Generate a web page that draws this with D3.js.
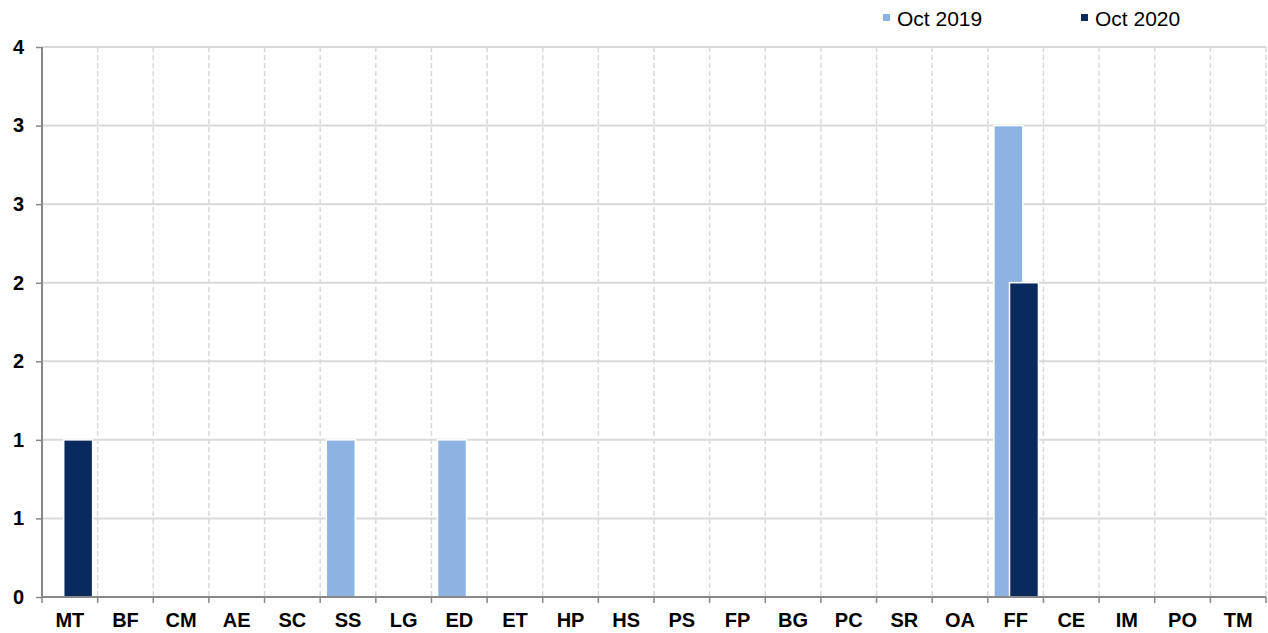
<!DOCTYPE html>
<html><head><meta charset="utf-8">
<script src="https://cdn.jsdelivr.net/npm/d3@7"></script>
<style>body{margin:0;background:#fff}svg{display:block}</style>
</head><body><svg id="c" width="1268" height="633"></svg>
<script>
const categories = ["MT","BF","CM","AE","SC","SS","LG","ED","ET","HP","HS","PS","FP","BG","PC","SR","OA","FF","CE","IM","PO","TM"];
const oct2019 = [0,0,0,0,0,1,0,1,0,0,0,0,0,0,0,0,0,3,0,0,0,0];
const oct2020 = [1,0,0,0,0,0,0,0,0,0,0,0,0,0,0,0,0,2,0,0,0,0];
const yTicks = [0,0.5,1,1.5,2,2.5,3,3.5];
const seriesNames = ["Oct 2019","Oct 2020"];
const colors = ["#8db3e2","#0a2a5e"];

(function(){
const svg = d3.select("#c");
const mL = 42, mR = 1266, mT = 47, mB = 597;
const x = d3.scaleBand().domain(categories).range([mL, mR]).padding(0);
const y = d3.scaleLinear().domain([0, 3.5]).range([mB, mT]);
const bw = x.bandwidth();
const barW = bw * 0.52;
const offs = [bw * 0.11, bw * 0.39];

// horizontal grid
svg.append("g").selectAll("line").data(yTicks.slice(1)).join("line")
  .attr("x1", mL).attr("x2", mR).attr("y1", d => y(d)).attr("y2", d => y(d))
  .attr("stroke", "#d9d9d9").attr("stroke-width", 2);
// vertical dashed grid
svg.append("g").selectAll("line").data(d3.range(1, categories.length + 1)).join("line")
  .attr("x1", i => mL + i*bw).attr("x2", i => mL + i*bw)
  .attr("y1", mT).attr("y2", mB)
  .attr("stroke", "#d9d9d9").attr("stroke-width", 1.5).attr("stroke-dasharray", "5,3");

// bars
[oct2019, oct2020].forEach((vals, s) => {
  svg.append("g").selectAll("rect").data(vals.map((v,i)=>({v, c: categories[i]})).filter(d => d.v > 0)).join("rect")
    .attr("x", d => x(d.c) + offs[s]).attr("width", barW)
    .attr("y", d => y(d.v)).attr("height", d => y(0) - y(d.v))
    .attr("fill", colors[s]).attr("stroke", "#fff").attr("stroke-width", 1.5);
});

// axes
const yAxis = svg.append("g").attr("transform", `translate(${mL},0)`)
  .call(d3.axisLeft(y).tickValues(yTicks).tickSize(6).tickPadding(12).tickFormat(d => String(Math.round(d))));
const xAxis = svg.append("g").attr("transform", `translate(0,${mB})`)
  .call(d3.axisBottom(x).tickSize(0).tickPadding(16));
// x ticks at band boundaries
svg.append("g").selectAll("line").data(d3.range(categories.length + 1)).join("line")
  .attr("x1", i => mL + i*bw).attr("x2", i => mL + i*bw)
  .attr("y1", mB).attr("y2", mB + 6).attr("stroke", "#888").attr("stroke-width", 1.5);

[yAxis, xAxis].forEach(g => {
  g.select(".domain").attr("stroke", "#888").attr("stroke-width", 2);
  g.selectAll(".tick line").attr("stroke", "#888").attr("stroke-width", 1.5);
  g.selectAll("text").attr("font-family", "Liberation Sans, Arial, sans-serif")
    .attr("font-size", 20).attr("font-weight", "bold").attr("fill", "#000");
});
xAxis.select(".domain").attr("d", `M${mL},0H${mR}`);
yAxis.select(".domain").attr("d", `M0,${mT}V${mB}`);

// legend
const lx = [883, 1081];
seriesNames.forEach((n, i) => {
  svg.append("rect").attr("x", lx[i]).attr("y", 14).attr("width", 7).attr("height", 7).attr("fill", colors[i]);
  svg.append("text").attr("x", lx[i] + 14).attr("y", 26).text(n)
    .attr("font-family", "Liberation Sans, Arial, sans-serif").attr("font-size", 21).attr("fill", "#000");
});
})();
</script></body></html>
